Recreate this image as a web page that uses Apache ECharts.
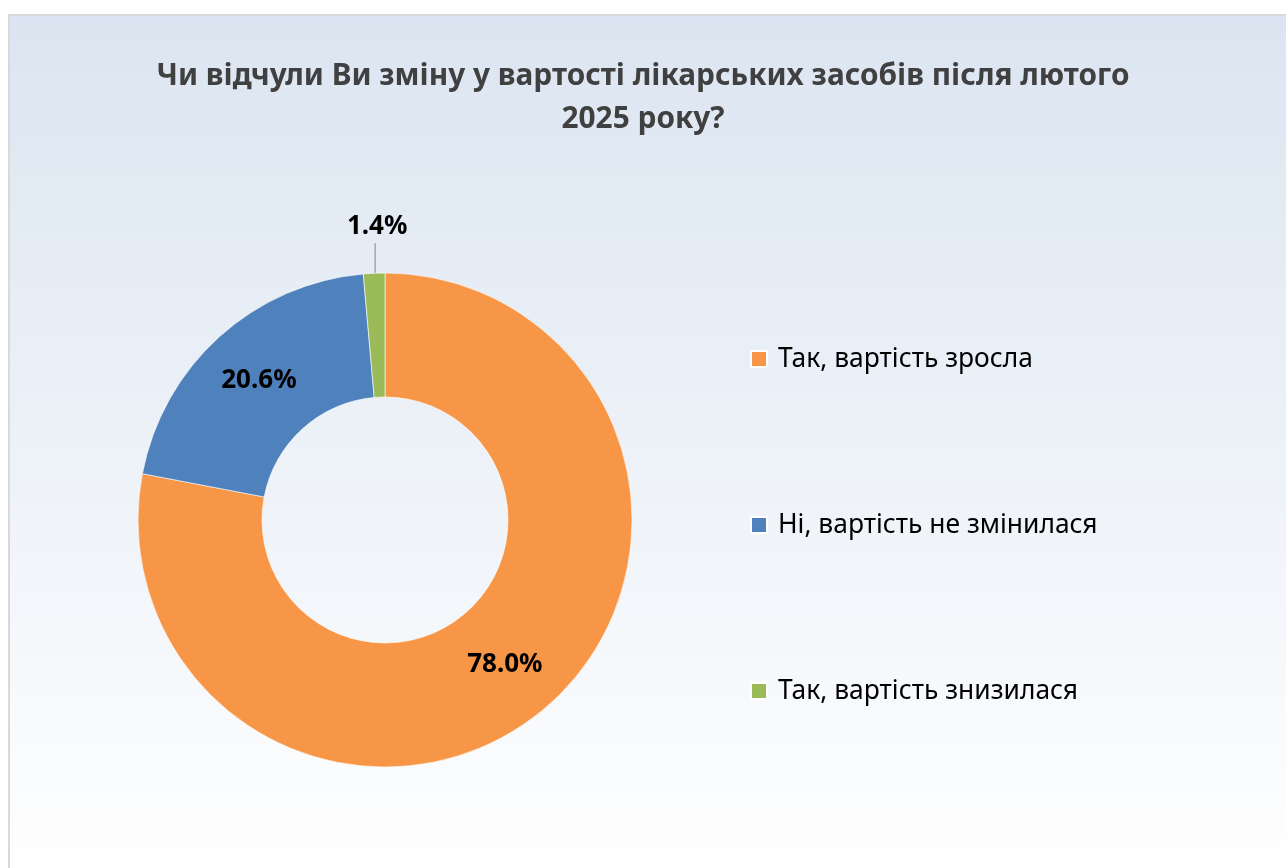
<!DOCTYPE html>
<html>
<head>
<meta charset="utf-8">
<script src="https://cdn.jsdelivr.net/npm/echarts@6/dist/echarts.min.js"></script>
<style>
html,body{margin:0;padding:0;background:#fff;}
#c{width:1286px;height:868px;}
</style>
</head>
<body>
<div id="c"></div>
<script>
const titleText = 'Чи відчули Ви зміну у вартості лікарських засобів після лютого\n2025 року?';
const categories = ['Так, вартість зросла', 'Ні, вартість не змінилася', 'Так, вартість знизилася'];
const values = [78.0, 20.6, 1.4];
const colors = ['#f79646', '#4f81bd', '#9bbb59'];

const chart = echarts.init(document.getElementById('c'));
const data = categories.map((n, i) => {
  const d = { name: n, value: values[i], itemStyle: { color: colors[i] } };
  if (i === 2) {
    d.label = { position: 'outside' };
    d.labelLine = { show: true, length: 30, length2: 0, lineStyle: { color: '#a6a6a6', width: 1.5 } };
  }
  return d;
});

chart.setOption({
  animation: false,
  graphic: [{
    type: 'rect', z: -10, silent: true,
    shape: { x: 9, y: 15, width: 1290, height: 870 },
    style: {
      fill: new echarts.graphic.LinearGradient(0, 0, 0, 1, [
        { offset: 0, color: '#dbe5f1' },
        { offset: 1, color: '#ffffff' }
      ]),
      stroke: '#d9d9d9', lineWidth: 2
    }
  }],
  title: {
    text: titleText,
    left: 'center',
    top: 50,
    textStyle: {
      fontFamily: 'Noto Sans', fontWeight: 'bold', fontSize: 29.8,
      color: '#404040', lineHeight: 43
    }
  },
  legend: {
    orient: 'vertical',
    left: 745,
    top: 341,
    itemGap: 140,
    itemWidth: 16,
    itemHeight: 16,
    icon: 'rect',
    textStyle: { fontFamily: 'Noto Sans', fontSize: 26.4, color: '#000', padding: [0, 0, 0, 6] },
    data: categories
  },
  series: [{
    type: 'pie',
    center: [385, 520],
    radius: [123, 247],
    startAngle: 90,
    clockwise: true,
    avoidLabelOverlap: false,
    itemStyle: { borderColor: '#ffffff', borderWidth: 0.6 },
    label: {
      show: true,
      position: 'inside',
      formatter: p => p.value.toFixed(1) + '%',
      fontFamily: 'Noto Sans', fontWeight: 'bold', fontSize: 26, color: '#000'
    },
    labelLine: { show: false },
    labelLayout: function (params) {
      if (params.dataIndex === 2 && params.labelLinePoints) {
        const pts = params.labelLinePoints;
        const start = pts[0];
        const x = start[0] + 1;
        const y0 = start[1];
        const y1 = y0 - 30;
        return {
          x: x + 2, y: y1 - 4, align: 'center', verticalAlign: 'bottom',
          labelLinePoints: [[x, y0], [x, y1]]
        };
      }
    },
    data: data
  }]
});
</script>
</body>
</html>
